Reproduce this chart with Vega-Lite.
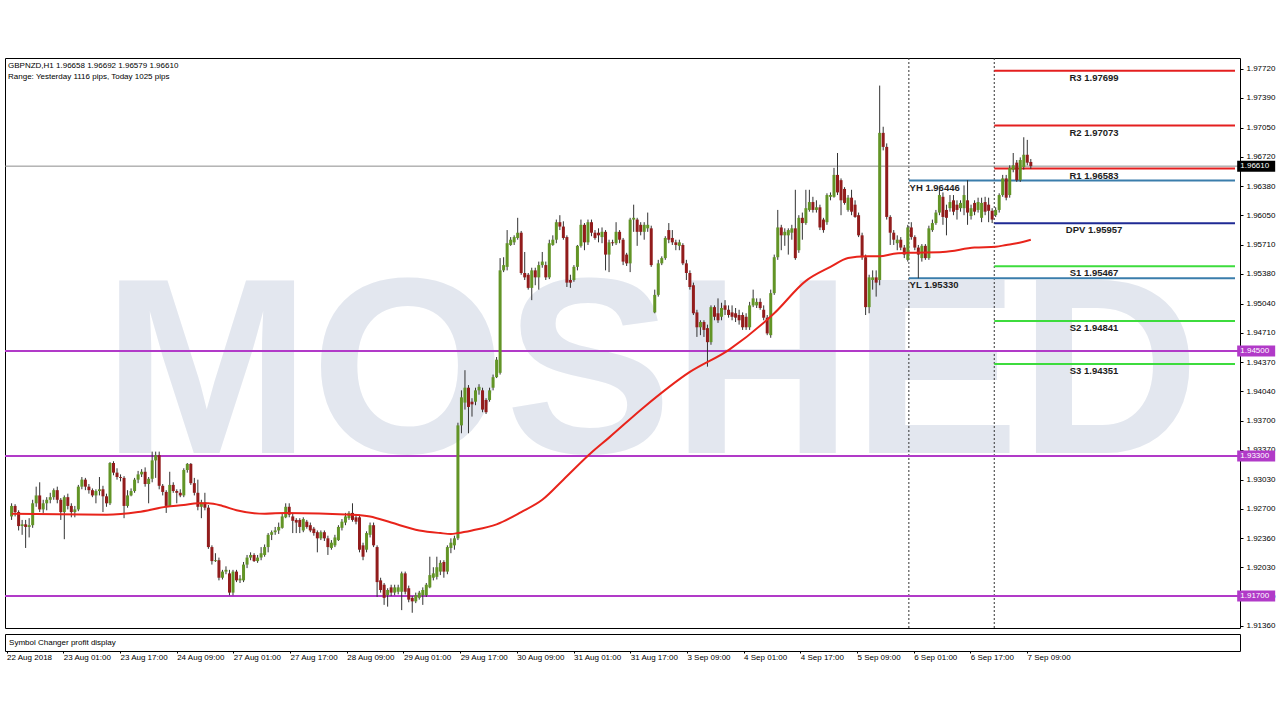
{
  "$schema": "https://vega.github.io/schema/vega-lite/v6.json",
  "background": "white",
  "padding": {"left": 3, "top": 57, "right": 0, "bottom": 0},
  "config": {
    "view": {"stroke": "#000", "strokeWidth": 1},
    "font": "Liberation Sans",
    "concat": {"spacing": 2}
  },
  "datasets": {
    "candles": [
      {"i":0,"o":1.9261,"h":1.9276,"l":1.9257,"c":1.9273},
      {"i":1,"o":1.9273,"h":1.9275,"l":1.9261,"c":1.9266},
      {"i":2,"o":1.9266,"h":1.9268,"l":1.9245,"c":1.9250},
      {"i":3,"o":1.9250,"h":1.9257,"l":1.9240,"c":1.9252},
      {"i":4,"o":1.9252,"h":1.9257,"l":1.9225,"c":1.9249},
      {"i":5,"o":1.9249,"h":1.9259,"l":1.9237,"c":1.9251},
      {"i":6,"o":1.9251,"h":1.9280,"l":1.9248,"c":1.9276},
      {"i":7,"o":1.9276,"h":1.9295,"l":1.9272,"c":1.9285},
      {"i":8,"o":1.9285,"h":1.9300,"l":1.9266,"c":1.9269},
      {"i":9,"o":1.9269,"h":1.9280,"l":1.9265,"c":1.9276},
      {"i":10,"o":1.9276,"h":1.9283,"l":1.9268,"c":1.9280},
      {"i":11,"o":1.9280,"h":1.9288,"l":1.9276,"c":1.9283},
      {"i":12,"o":1.9283,"h":1.9293,"l":1.9280,"c":1.9291},
      {"i":13,"o":1.9291,"h":1.9295,"l":1.9276,"c":1.9280},
      {"i":14,"o":1.9280,"h":1.9282,"l":1.9257,"c":1.9266},
      {"i":15,"o":1.9266,"h":1.9285,"l":1.9235,"c":1.9283},
      {"i":16,"o":1.9283,"h":1.9287,"l":1.9269,"c":1.9273},
      {"i":17,"o":1.9273,"h":1.9276,"l":1.9260,"c":1.9266},
      {"i":18,"o":1.9266,"h":1.9273,"l":1.9260,"c":1.9269},
      {"i":19,"o":1.9269,"h":1.9297,"l":1.9267,"c":1.9295},
      {"i":20,"o":1.9295,"h":1.9306,"l":1.9292,"c":1.9303},
      {"i":21,"o":1.9303,"h":1.9305,"l":1.9291,"c":1.9295},
      {"i":22,"o":1.9295,"h":1.9298,"l":1.9287,"c":1.9291},
      {"i":23,"o":1.9291,"h":1.9293,"l":1.9283,"c":1.9285},
      {"i":24,"o":1.9285,"h":1.9292,"l":1.9276,"c":1.9290},
      {"i":25,"o":1.9290,"h":1.9306,"l":1.9285,"c":1.9292},
      {"i":26,"o":1.9292,"h":1.9296,"l":1.9266,"c":1.9284},
      {"i":27,"o":1.9284,"h":1.9287,"l":1.9272,"c":1.9276},
      {"i":28,"o":1.9276,"h":1.9323,"l":1.9274,"c":1.9322},
      {"i":29,"o":1.9322,"h":1.9324,"l":1.9308,"c":1.9311},
      {"i":30,"o":1.9311,"h":1.9316,"l":1.9303,"c":1.9306},
      {"i":31,"o":1.9306,"h":1.9309,"l":1.9301,"c":1.9305},
      {"i":32,"o":1.9305,"h":1.9307,"l":1.9259,"c":1.9273},
      {"i":33,"o":1.9273,"h":1.9291,"l":1.9271,"c":1.9285},
      {"i":34,"o":1.9285,"h":1.9293,"l":1.9284,"c":1.9290},
      {"i":35,"o":1.9290,"h":1.9305,"l":1.9288,"c":1.9303},
      {"i":36,"o":1.9303,"h":1.9313,"l":1.9299,"c":1.9309},
      {"i":37,"o":1.9309,"h":1.9315,"l":1.9306,"c":1.9312},
      {"i":38,"o":1.9312,"h":1.9317,"l":1.9295,"c":1.9298},
      {"i":39,"o":1.9298,"h":1.9306,"l":1.9276,"c":1.9304},
      {"i":40,"o":1.9304,"h":1.9335,"l":1.9300,"c":1.9325},
      {"i":41,"o":1.9325,"h":1.9335,"l":1.9305,"c":1.9331},
      {"i":42,"o":1.9331,"h":1.9335,"l":1.9292,"c":1.9296},
      {"i":43,"o":1.9296,"h":1.9298,"l":1.9285,"c":1.9289},
      {"i":44,"o":1.9289,"h":1.9291,"l":1.9265,"c":1.9273},
      {"i":45,"o":1.9273,"h":1.9312,"l":1.9272,"c":1.9297},
      {"i":46,"o":1.9297,"h":1.9300,"l":1.9288,"c":1.9290},
      {"i":47,"o":1.9290,"h":1.9292,"l":1.9276,"c":1.9288},
      {"i":48,"o":1.9288,"h":1.9292,"l":1.9283,"c":1.9285},
      {"i":49,"o":1.9285,"h":1.9316,"l":1.9283,"c":1.9314},
      {"i":50,"o":1.9314,"h":1.9322,"l":1.9311,"c":1.9321},
      {"i":51,"o":1.9321,"h":1.9322,"l":1.9297,"c":1.9299},
      {"i":52,"o":1.9299,"h":1.9305,"l":1.9285,"c":1.9288},
      {"i":53,"o":1.9288,"h":1.9303,"l":1.9268,"c":1.9272},
      {"i":54,"o":1.9272,"h":1.9280,"l":1.9259,"c":1.9277},
      {"i":55,"o":1.9277,"h":1.9288,"l":1.9268,"c":1.9271},
      {"i":56,"o":1.9271,"h":1.9274,"l":1.9224,"c":1.9226},
      {"i":57,"o":1.9226,"h":1.9228,"l":1.9206,"c":1.9210},
      {"i":58,"o":1.9210,"h":1.9219,"l":1.9209,"c":1.9211},
      {"i":59,"o":1.9211,"h":1.9214,"l":1.9188,"c":1.9191},
      {"i":60,"o":1.9191,"h":1.9200,"l":1.9189,"c":1.9198},
      {"i":61,"o":1.9198,"h":1.9204,"l":1.9195,"c":1.9200},
      {"i":62,"o":1.9196,"h":1.9200,"l":1.9171,"c":1.9174},
      {"i":63,"o":1.9174,"h":1.9200,"l":1.9171,"c":1.9198},
      {"i":64,"o":1.9198,"h":1.9200,"l":1.9186,"c":1.9188},
      {"i":65,"o":1.9188,"h":1.9194,"l":1.9185,"c":1.9190},
      {"i":66,"o":1.9188,"h":1.9209,"l":1.9186,"c":1.9206},
      {"i":67,"o":1.9206,"h":1.9217,"l":1.9202,"c":1.9214},
      {"i":68,"o":1.9214,"h":1.9220,"l":1.9211,"c":1.9217},
      {"i":69,"o":1.9217,"h":1.9219,"l":1.9209,"c":1.9210},
      {"i":70,"o":1.9210,"h":1.9217,"l":1.9208,"c":1.9214},
      {"i":71,"o":1.9214,"h":1.9226,"l":1.9211,"c":1.9219},
      {"i":72,"o":1.9217,"h":1.9229,"l":1.9215,"c":1.9226},
      {"i":73,"o":1.9226,"h":1.9242,"l":1.9220,"c":1.9240},
      {"i":74,"o":1.9240,"h":1.9245,"l":1.9234,"c":1.9243},
      {"i":75,"o":1.9243,"h":1.9249,"l":1.9240,"c":1.9245},
      {"i":76,"o":1.9245,"h":1.9254,"l":1.9241,"c":1.9249},
      {"i":77,"o":1.9248,"h":1.9265,"l":1.9247,"c":1.9261},
      {"i":78,"o":1.9260,"h":1.9276,"l":1.9259,"c":1.9272},
      {"i":79,"o":1.9272,"h":1.9276,"l":1.9260,"c":1.9263},
      {"i":80,"o":1.9261,"h":1.9264,"l":1.9242,"c":1.9256},
      {"i":81,"o":1.9257,"h":1.9259,"l":1.9242,"c":1.9254},
      {"i":82,"o":1.9257,"h":1.9259,"l":1.9242,"c":1.9249},
      {"i":83,"o":1.9245,"h":1.9260,"l":1.9243,"c":1.9258},
      {"i":84,"o":1.9255,"h":1.9257,"l":1.9247,"c":1.9249},
      {"i":85,"o":1.9251,"h":1.9254,"l":1.9243,"c":1.9245},
      {"i":86,"o":1.9247,"h":1.9249,"l":1.9239,"c":1.9242},
      {"i":87,"o":1.9243,"h":1.9245,"l":1.9220,"c":1.9236},
      {"i":88,"o":1.9236,"h":1.9245,"l":1.9234,"c":1.9243},
      {"i":89,"o":1.9243,"h":1.9245,"l":1.9233,"c":1.9236},
      {"i":90,"o":1.9236,"h":1.9239,"l":1.9217,"c":1.9226},
      {"i":91,"o":1.9225,"h":1.9234,"l":1.9223,"c":1.9231},
      {"i":92,"o":1.9228,"h":1.9240,"l":1.9226,"c":1.9237},
      {"i":93,"o":1.9234,"h":1.9251,"l":1.9233,"c":1.9249},
      {"i":94,"o":1.9248,"h":1.9258,"l":1.9245,"c":1.9255},
      {"i":95,"o":1.9254,"h":1.9265,"l":1.9251,"c":1.9261},
      {"i":96,"o":1.9259,"h":1.9267,"l":1.9257,"c":1.9265},
      {"i":97,"o":1.9265,"h":1.9276,"l":1.9255,"c":1.9257},
      {"i":98,"o":1.9260,"h":1.9263,"l":1.9252,"c":1.9255},
      {"i":99,"o":1.9260,"h":1.9263,"l":1.9220,"c":1.9223},
      {"i":100,"o":1.9228,"h":1.9231,"l":1.9211,"c":1.9215},
      {"i":101,"o":1.9223,"h":1.9244,"l":1.9220,"c":1.9242},
      {"i":102,"o":1.9240,"h":1.9254,"l":1.9237,"c":1.9251},
      {"i":103,"o":1.9251,"h":1.9254,"l":1.9226,"c":1.9228},
      {"i":104,"o":1.9226,"h":1.9228,"l":1.9169,"c":1.9186},
      {"i":105,"o":1.9188,"h":1.9191,"l":1.9174,"c":1.9177},
      {"i":106,"o":1.9183,"h":1.9185,"l":1.9160,"c":1.9168},
      {"i":107,"o":1.9171,"h":1.9179,"l":1.9158,"c":1.9177},
      {"i":108,"o":1.9180,"h":1.9183,"l":1.9170,"c":1.9174},
      {"i":109,"o":1.9174,"h":1.9183,"l":1.9171,"c":1.9180},
      {"i":110,"o":1.9175,"h":1.9183,"l":1.9172,"c":1.9180},
      {"i":111,"o":1.9175,"h":1.9198,"l":1.9154,"c":1.9196},
      {"i":112,"o":1.9196,"h":1.9198,"l":1.9172,"c":1.9175},
      {"i":113,"o":1.9179,"h":1.9182,"l":1.9163,"c":1.9166},
      {"i":114,"o":1.9168,"h":1.9170,"l":1.9151,"c":1.9164},
      {"i":115,"o":1.9164,"h":1.9174,"l":1.9162,"c":1.9171},
      {"i":116,"o":1.9168,"h":1.9176,"l":1.9166,"c":1.9174},
      {"i":117,"o":1.9171,"h":1.9180,"l":1.9160,"c":1.9177},
      {"i":118,"o":1.9171,"h":1.9185,"l":1.9169,"c":1.9183},
      {"i":119,"o":1.9180,"h":1.9215,"l":1.9179,"c":1.9194},
      {"i":120,"o":1.9191,"h":1.9203,"l":1.9188,"c":1.9196},
      {"i":121,"o":1.9192,"h":1.9215,"l":1.9189,"c":1.9203},
      {"i":122,"o":1.9198,"h":1.9211,"l":1.9194,"c":1.9208},
      {"i":123,"o":1.9209,"h":1.9211,"l":1.9191,"c":1.9198},
      {"i":124,"o":1.9198,"h":1.9228,"l":1.9195,"c":1.9226},
      {"i":125,"o":1.9225,"h":1.9236,"l":1.9219,"c":1.9231},
      {"i":126,"o":1.9228,"h":1.9239,"l":1.9223,"c":1.9236},
      {"i":127,"o":1.9236,"h":1.9368,"l":1.9234,"c":1.9365},
      {"i":128,"o":1.9365,"h":1.9405,"l":1.9356,"c":1.9397},
      {"i":129,"o":1.9391,"h":1.9428,"l":1.9383,"c":1.9408},
      {"i":130,"o":1.9408,"h":1.9411,"l":1.9356,"c":1.9386},
      {"i":131,"o":1.9392,"h":1.9396,"l":1.9375,"c":1.9389},
      {"i":132,"o":1.9392,"h":1.9408,"l":1.9388,"c":1.9405},
      {"i":133,"o":1.9405,"h":1.9412,"l":1.9400,"c":1.9409},
      {"i":134,"o":1.9405,"h":1.9408,"l":1.9380,"c":1.9383},
      {"i":135,"o":1.9394,"h":1.9396,"l":1.9378,"c":1.9380},
      {"i":136,"o":1.9394,"h":1.9408,"l":1.9392,"c":1.9405},
      {"i":137,"o":1.9408,"h":1.9423,"l":1.9405,"c":1.9420},
      {"i":138,"o":1.9420,"h":1.9443,"l":1.9419,"c":1.9440},
      {"i":139,"o":1.9425,"h":1.9556,"l":1.9423,"c":1.9542},
      {"i":140,"o":1.9542,"h":1.9557,"l":1.9540,"c":1.9548},
      {"i":141,"o":1.9546,"h":1.9588,"l":1.9542,"c":1.9573},
      {"i":142,"o":1.9571,"h":1.9580,"l":1.9570,"c":1.9577},
      {"i":143,"o":1.9574,"h":1.9582,"l":1.9571,"c":1.9580},
      {"i":144,"o":1.9579,"h":1.9602,"l":1.9577,"c":1.9585},
      {"i":145,"o":1.9585,"h":1.9587,"l":1.9537,"c":1.9539},
      {"i":146,"o":1.9539,"h":1.9563,"l":1.9531,"c":1.9534},
      {"i":147,"o":1.9537,"h":1.9539,"l":1.9520,"c":1.9522},
      {"i":148,"o":1.9522,"h":1.9545,"l":1.9508,"c":1.9542},
      {"i":149,"o":1.9542,"h":1.9545,"l":1.9525,"c":1.9534},
      {"i":150,"o":1.9534,"h":1.9552,"l":1.9520,"c":1.9548},
      {"i":151,"o":1.9548,"h":1.9563,"l":1.9545,"c":1.9552},
      {"i":152,"o":1.9548,"h":1.9552,"l":1.9531,"c":1.9534},
      {"i":153,"o":1.9534,"h":1.9577,"l":1.9532,"c":1.9573},
      {"i":154,"o":1.9571,"h":1.9582,"l":1.9570,"c":1.9577},
      {"i":155,"o":1.9577,"h":1.9600,"l":1.9573,"c":1.9597},
      {"i":156,"o":1.9597,"h":1.9605,"l":1.9588,"c":1.9592},
      {"i":157,"o":1.9592,"h":1.9598,"l":1.9577,"c":1.9579},
      {"i":158,"o":1.9580,"h":1.9582,"l":1.9523,"c":1.9528},
      {"i":159,"o":1.9531,"h":1.9537,"l":1.9522,"c":1.9528},
      {"i":160,"o":1.9531,"h":1.9548,"l":1.9529,"c":1.9546},
      {"i":161,"o":1.9546,"h":1.9571,"l":1.9542,"c":1.9570},
      {"i":162,"o":1.9570,"h":1.9600,"l":1.9568,"c":1.9594},
      {"i":163,"o":1.9594,"h":1.9596,"l":1.9565,"c":1.9574},
      {"i":164,"o":1.9574,"h":1.9600,"l":1.9571,"c":1.9597},
      {"i":165,"o":1.9597,"h":1.9600,"l":1.9581,"c":1.9585},
      {"i":166,"o":1.9585,"h":1.9588,"l":1.9577,"c":1.9579},
      {"i":167,"o":1.9585,"h":1.9590,"l":1.9574,"c":1.9582},
      {"i":168,"o":1.9580,"h":1.9591,"l":1.9573,"c":1.9586},
      {"i":169,"o":1.9586,"h":1.9588,"l":1.9542,"c":1.9560},
      {"i":170,"o":1.9560,"h":1.9577,"l":1.9540,"c":1.9574},
      {"i":171,"o":1.9574,"h":1.9577,"l":1.9570,"c":1.9573},
      {"i":172,"o":1.9573,"h":1.9597,"l":1.9571,"c":1.9586},
      {"i":173,"o":1.9586,"h":1.9588,"l":1.9573,"c":1.9577},
      {"i":174,"o":1.9577,"h":1.9579,"l":1.9548,"c":1.9552},
      {"i":175,"o":1.9560,"h":1.9562,"l":1.9547,"c":1.9550},
      {"i":176,"o":1.9550,"h":1.9602,"l":1.9540,"c":1.9600},
      {"i":177,"o":1.9600,"h":1.9617,"l":1.9586,"c":1.9602},
      {"i":178,"o":1.9600,"h":1.9602,"l":1.9570,"c":1.9586},
      {"i":179,"o":1.9594,"h":1.9597,"l":1.9582,"c":1.9586},
      {"i":180,"o":1.9586,"h":1.9597,"l":1.9577,"c":1.9594},
      {"i":181,"o":1.9590,"h":1.9608,"l":1.9586,"c":1.9594},
      {"i":182,"o":1.9590,"h":1.9593,"l":1.9546,"c":1.9548},
      {"i":183,"o":1.9494,"h":1.9520,"l":1.9493,"c":1.9514},
      {"i":184,"o":1.9514,"h":1.9554,"l":1.9512,"c":1.9550},
      {"i":185,"o":1.9550,"h":1.9558,"l":1.9548,"c":1.9556},
      {"i":186,"o":1.9556,"h":1.9581,"l":1.9554,"c":1.9579},
      {"i":187,"o":1.9588,"h":1.9596,"l":1.9573,"c":1.9577},
      {"i":188,"o":1.9579,"h":1.9588,"l":1.9571,"c":1.9574},
      {"i":189,"o":1.9574,"h":1.9577,"l":1.9565,"c":1.9571},
      {"i":190,"o":1.9570,"h":1.9577,"l":1.9565,"c":1.9574},
      {"i":191,"o":1.9571,"h":1.9573,"l":1.9548,"c":1.9550},
      {"i":192,"o":1.9550,"h":1.9554,"l":1.9531,"c":1.9539},
      {"i":193,"o":1.9539,"h":1.9542,"l":1.9520,"c":1.9523},
      {"i":194,"o":1.9525,"h":1.9528,"l":1.9491,"c":1.9493},
      {"i":195,"o":1.9494,"h":1.9497,"l":1.9466,"c":1.9477},
      {"i":196,"o":1.9477,"h":1.9485,"l":1.9468,"c":1.9483},
      {"i":197,"o":1.9483,"h":1.9485,"l":1.9466,"c":1.9474},
      {"i":198,"o":1.9476,"h":1.9480,"l":1.9432,"c":1.9460},
      {"i":199,"o":1.9460,"h":1.9502,"l":1.9457,"c":1.9500},
      {"i":200,"o":1.9500,"h":1.9502,"l":1.9485,"c":1.9489},
      {"i":201,"o":1.9493,"h":1.9510,"l":1.9482,"c":1.9485},
      {"i":202,"o":1.9489,"h":1.9505,"l":1.9485,"c":1.9499},
      {"i":203,"o":1.9502,"h":1.9508,"l":1.9491,"c":1.9497},
      {"i":204,"o":1.9497,"h":1.9502,"l":1.9488,"c":1.9491},
      {"i":205,"o":1.9494,"h":1.9502,"l":1.9485,"c":1.9489},
      {"i":206,"o":1.9493,"h":1.9499,"l":1.9483,"c":1.9488},
      {"i":207,"o":1.9491,"h":1.9497,"l":1.9480,"c":1.9485},
      {"i":208,"o":1.9491,"h":1.9494,"l":1.9474,"c":1.9477},
      {"i":209,"o":1.9489,"h":1.9493,"l":1.9474,"c":1.9477},
      {"i":210,"o":1.9477,"h":1.9506,"l":1.9474,"c":1.9502},
      {"i":211,"o":1.9502,"h":1.9520,"l":1.9500,"c":1.9510},
      {"i":212,"o":1.9502,"h":1.9510,"l":1.9499,"c":1.9506},
      {"i":213,"o":1.9506,"h":1.9510,"l":1.9497,"c":1.9499},
      {"i":214,"o":1.9497,"h":1.9502,"l":1.9485,"c":1.9488},
      {"i":215,"o":1.9488,"h":1.9491,"l":1.9468,"c":1.9470},
      {"i":216,"o":1.9468,"h":1.9520,"l":1.9465,"c":1.9516},
      {"i":217,"o":1.9516,"h":1.9560,"l":1.9514,"c":1.9557},
      {"i":218,"o":1.9557,"h":1.9611,"l":1.9554,"c":1.9591},
      {"i":219,"o":1.9591,"h":1.9594,"l":1.9565,"c":1.9582},
      {"i":220,"o":1.9582,"h":1.9590,"l":1.9570,"c":1.9586},
      {"i":221,"o":1.9582,"h":1.9590,"l":1.9560,"c":1.9588},
      {"i":222,"o":1.9585,"h":1.9594,"l":1.9577,"c":1.9590},
      {"i":223,"o":1.9590,"h":1.9634,"l":1.9554,"c":1.9556},
      {"i":224,"o":1.9565,"h":1.9605,"l":1.9562,"c":1.9602},
      {"i":225,"o":1.9602,"h":1.9608,"l":1.9577,"c":1.9596},
      {"i":226,"o":1.9596,"h":1.9634,"l":1.9594,"c":1.9613},
      {"i":227,"o":1.9611,"h":1.9634,"l":1.9609,"c":1.9620},
      {"i":228,"o":1.9620,"h":1.9626,"l":1.9608,"c":1.9611},
      {"i":229,"o":1.9611,"h":1.9622,"l":1.9608,"c":1.9614},
      {"i":230,"o":1.9614,"h":1.9617,"l":1.9588,"c":1.9591},
      {"i":231,"o":1.9600,"h":1.9602,"l":1.9585,"c":1.9588},
      {"i":232,"o":1.9597,"h":1.9630,"l":1.9594,"c":1.9628},
      {"i":233,"o":1.9626,"h":1.9631,"l":1.9622,"c":1.9628},
      {"i":234,"o":1.9626,"h":1.9659,"l":1.9625,"c":1.9651},
      {"i":235,"o":1.9651,"h":1.9676,"l":1.9628,"c":1.9631},
      {"i":236,"o":1.9645,"h":1.9647,"l":1.9605,"c":1.9622},
      {"i":237,"o":1.9635,"h":1.9637,"l":1.9617,"c":1.9619},
      {"i":238,"o":1.9611,"h":1.9628,"l":1.9609,"c":1.9625},
      {"i":239,"o":1.9625,"h":1.9634,"l":1.9605,"c":1.9609},
      {"i":240,"o":1.9617,"h":1.9622,"l":1.9602,"c":1.9603},
      {"i":241,"o":1.9605,"h":1.9608,"l":1.9580,"c":1.9582},
      {"i":242,"o":1.9582,"h":1.9585,"l":1.9554,"c":1.9557},
      {"i":243,"o":1.9557,"h":1.9560,"l":1.9491,"c":1.9500},
      {"i":244,"o":1.9500,"h":1.9537,"l":1.9493,"c":1.9534},
      {"i":245,"o":1.9531,"h":1.9542,"l":1.9520,"c":1.9534},
      {"i":246,"o":1.9534,"h":1.9542,"l":1.9512,"c":1.9528},
      {"i":247,"o":1.9531,"h":1.9753,"l":1.9525,"c":1.9699},
      {"i":248,"o":1.9699,"h":1.9706,"l":1.9679,"c":1.9683},
      {"i":249,"o":1.9683,"h":1.9687,"l":1.9600,"c":1.9603},
      {"i":250,"o":1.9603,"h":1.9605,"l":1.9571,"c":1.9585},
      {"i":251,"o":1.9585,"h":1.9588,"l":1.9571,"c":1.9577},
      {"i":252,"o":1.9573,"h":1.9582,"l":1.9565,"c":1.9577},
      {"i":253,"o":1.9577,"h":1.9580,"l":1.9565,"c":1.9568},
      {"i":254,"o":1.9568,"h":1.9571,"l":1.9556,"c":1.9560},
      {"i":255,"o":1.9554,"h":1.9594,"l":1.9552,"c":1.9591},
      {"i":256,"o":1.9591,"h":1.9597,"l":1.9577,"c":1.9580},
      {"i":257,"o":1.9580,"h":1.9582,"l":1.9565,"c":1.9568},
      {"i":258,"o":1.9568,"h":1.9571,"l":1.9533,"c":1.9560},
      {"i":259,"o":1.9556,"h":1.9572,"l":1.9552,"c":1.9570},
      {"i":260,"o":1.9570,"h":1.9572,"l":1.9554,"c":1.9556},
      {"i":261,"o":1.9556,"h":1.9593,"l":1.9554,"c":1.9590},
      {"i":262,"o":1.9588,"h":1.9600,"l":1.9586,"c":1.9596},
      {"i":263,"o":1.9596,"h":1.9611,"l":1.9594,"c":1.9608},
      {"i":264,"o":1.9608,"h":1.9634,"l":1.9605,"c":1.9628},
      {"i":265,"o":1.9626,"h":1.9631,"l":1.9594,"c":1.9603},
      {"i":266,"o":1.9611,"h":1.9617,"l":1.9582,"c":1.9602},
      {"i":267,"o":1.9613,"h":1.9628,"l":1.9609,"c":1.9620},
      {"i":268,"o":1.9622,"h":1.9628,"l":1.9605,"c":1.9609},
      {"i":269,"o":1.9617,"h":1.9622,"l":1.9600,"c":1.9611},
      {"i":270,"o":1.9613,"h":1.9622,"l":1.9609,"c":1.9619},
      {"i":271,"o":1.9613,"h":1.9639,"l":1.9605,"c":1.9628},
      {"i":272,"o":1.9622,"h":1.9645,"l":1.9594,"c":1.9608},
      {"i":273,"o":1.9604,"h":1.9617,"l":1.9600,"c":1.9613},
      {"i":274,"o":1.9619,"h":1.9622,"l":1.9605,"c":1.9609},
      {"i":275,"o":1.9611,"h":1.9625,"l":1.9608,"c":1.9620},
      {"i":276,"o":1.9602,"h":1.9625,"l":1.9597,"c":1.9619},
      {"i":277,"o":1.9620,"h":1.9626,"l":1.9605,"c":1.9609},
      {"i":278,"o":1.9617,"h":1.9625,"l":1.9597,"c":1.9610},
      {"i":279,"o":1.9610,"h":1.9613,"l":1.9596,"c":1.9600},
      {"i":280,"o":1.9605,"h":1.9614,"l":1.9603,"c":1.9611},
      {"i":281,"o":1.9611,"h":1.9630,"l":1.9608,"c":1.9628},
      {"i":282,"o":1.9628,"h":1.9651,"l":1.9626,"c":1.9647},
      {"i":283,"o":1.9647,"h":1.9651,"l":1.9622,"c":1.9625},
      {"i":284,"o":1.9628,"h":1.9662,"l":1.9625,"c":1.9659},
      {"i":285,"o":1.9657,"h":1.9676,"l":1.9654,"c":1.9662},
      {"i":286,"o":1.9665,"h":1.9668,"l":1.9643,"c":1.9645},
      {"i":287,"o":1.9645,"h":1.9671,"l":1.9643,"c":1.9668},
      {"i":288,"o":1.9660,"h":1.9694,"l":1.9657,"c":1.9674},
      {"i":289,"o":1.9674,"h":1.9691,"l":1.9662,"c":1.9665},
      {"i":290,"o":1.96658,"h":1.96692,"l":1.96579,"c":1.96610}
    ],
    "ma": [
      {"i":0,"v":1.9264},{"i":27,"v":1.9263},{"i":36,"v":1.9266},{"i":44,"v":1.9272},
      {"i":49,"v":1.9274},{"i":53,"v":1.9276},{"i":56,"v":1.9276},{"i":60,"v":1.9273},
      {"i":64,"v":1.9268},{"i":72,"v":1.9264},{"i":78,"v":1.9265},{"i":97,"v":1.9263},
      {"i":102,"v":1.9261},{"i":108,"v":1.9254},{"i":116,"v":1.9245},{"i":122,"v":1.9242},
      {"i":125,"v":1.9241},{"i":127,"v":1.9242},{"i":131,"v":1.9245},{"i":138,"v":1.9252},
      {"i":145,"v":1.9266},{"i":151,"v":1.9280},{"i":157,"v":1.9303},{"i":165,"v":1.9334},
      {"i":170,"v":1.9351},{"i":180,"v":1.9386},{"i":193,"v":1.9426},{"i":204,"v":1.9451},
      {"i":217,"v":1.9493},{"i":226,"v":1.9530},{"i":233,"v":1.9546},{"i":238,"v":1.9556},
      {"i":243,"v":1.9558},{"i":247,"v":1.9558},{"i":251,"v":1.9561},{"i":255,"v":1.9562},
      {"i":265,"v":1.9563},{"i":274,"v":1.9568},{"i":280,"v":1.9569},{"i":283,"v":1.9571},
      {"i":286,"v":1.9573},{"i":290,"v":1.9577}
    ],
    "pivots": [
      {"t":"R3 1.97699","v":1.97699,"k":"R"},
      {"t":"R2 1.97073","v":1.97073,"k":"R"},
      {"t":"R1 1.96583","v":1.96583,"k":"R"},
      {"t":"DPV 1.95957","v":1.95957,"k":"P"},
      {"t":"S1 1.95467","v":1.95467,"k":"S"},
      {"t":"S2 1.94841","v":1.94841,"k":"S"},
      {"t":"S3 1.94351","v":1.94351,"k":"S"}
    ],
    "yday": [
      {"t":"YH 1.96446","v":1.96446},
      {"t":"YL 1.95330","v":1.95330}
    ],
    "levels": [
      {"v":1.945,"t":"1.94500","k":"lvl"},
      {"v":1.933,"t":"1.93300","k":"lvl"},
      {"v":1.917,"t":"1.91700","k":"lvl"},
      {"v":1.9661,"t":"1.96610","k":"bid"}
    ],
    "days": [{"b":255.3},{"b":279.6}]
  },
  "vconcat": [
    {
      "width": 1235,
      "height": 570,
      "title": {
        "text": ["GBPNZD,H1  1.96658 1.96692 1.96579 1.96610", "Range: Yesterday 1116 pips, Today 1025 pips"],
        "anchor": "start", "frame": "group", "offset": -23, "dx": 3,
        "font": "Liberation Sans", "fontSize": 8, "fontWeight": "normal", "color": "#000", "lineHeight": 11
      },
      "resolve": {"axis": {"y": "independent"}},
      "layer": [
        {
          "data": {"values": [{"w": "MOSHED"}]},
          "mark": {"type": "text", "font": "Liberation Sans", "fontWeight": "bold", "fontSize": 250, "color": "#e3e7ef", "align": "center", "baseline": "alphabetic"},
          "encoding": {
            "x": {"datum": 182, "type": "quantitative", "scale": {"domain": [-0.45, 348.1], "nice": false, "zero": false}, "axis": null},
            "y": {
              "datum": 1.9333, "type": "quantitative", "title": null,
              "scale": {"domain": [1.91336, 1.97845], "nice": false, "zero": false},
              "axis": {
                "orient": "right", "title": null, "grid": false, "domain": false,
                "values": [1.9136, 1.917, 1.9203, 1.9236, 1.927, 1.9303, 1.9337, 1.937, 1.9404, 1.9437, 1.9471, 1.9504, 1.9538, 1.9571, 1.9605, 1.9638, 1.9672, 1.9705, 1.9739, 1.9772],
                "format": ".5f", "labelOverlap": false, "labelAlign": "left", "labelBaseline": "middle",
                "labelFont": "Liberation Sans", "labelFontSize": 8, "labelColor": "#000", "tickColor": "#000", "tickSize": 3, "labelPadding": 3
              }
            },
            "text": {"field": "w"}
          }
        },
        {
          "data": {"name": "days"},
          "mark": {"type": "rule", "color": "#333", "strokeWidth": 1, "strokeDash": [2, 2]},
          "encoding": {
            "x": {"field": "b", "type": "quantitative", "scale": {"domain": [-0.45, 348.1], "nice": false, "zero": false}, "axis": null}
          }
        },
        {
          "data": {"name": "levels"},
          "transform": [{"filter": "datum.k == 'lvl'"}],
          "mark": {"type": "rule", "color": "#b13ac8", "strokeWidth": 2},
          "encoding": {
            "y": {"field": "v", "type": "quantitative", "scale": {"domain": [1.91336, 1.97845], "nice": false, "zero": false}, "axis": null}
          }
        },
        {
          "data": {"name": "levels"},
          "transform": [{"filter": "datum.k == 'bid'"}],
          "mark": {"type": "rule", "color": "#8c8c8c", "strokeWidth": 1},
          "encoding": {
            "y": {"field": "v", "type": "quantitative", "scale": {"domain": [1.91336, 1.97845], "nice": false, "zero": false}, "axis": null}
          }
        },
        {
          "data": {"name": "pivots"},
          "mark": {"type": "rule", "strokeWidth": 2},
          "encoding": {
            "x": {"datum": 279.6, "type": "quantitative", "scale": {"domain": [-0.45, 348.1], "nice": false, "zero": false}, "axis": null},
            "x2": {"datum": 348.1},
            "y": {"field": "v", "type": "quantitative", "scale": {"domain": [1.91336, 1.97845], "nice": false, "zero": false}, "axis": null},
            "color": {"condition": [{"test": "datum.k == 'R'", "value": "#e41f1f"}, {"test": "datum.k == 'P'", "value": "#1f2a94"}], "value": "#3ddc3d"}
          }
        },
        {
          "data": {"name": "yday"},
          "mark": {"type": "rule", "strokeWidth": 2, "color": "#3a7dab"},
          "encoding": {
            "x": {"datum": 255.3, "type": "quantitative", "scale": {"domain": [-0.45, 348.1], "nice": false, "zero": false}, "axis": null},
            "x2": {"datum": 348.1},
            "y": {"field": "v", "type": "quantitative", "scale": {"domain": [1.91336, 1.97845], "nice": false, "zero": false}, "axis": null}
          }
        },
        {
          "data": {"name": "candles"},
          "mark": {"type": "rule", "color": "#333", "strokeWidth": 1},
          "encoding": {
            "x": {"field": "i", "type": "quantitative", "scale": {"domain": [-0.45, 348.1], "nice": false, "zero": false}, "axis": null},
            "y": {"field": "l", "type": "quantitative", "scale": {"domain": [1.91336, 1.97845], "nice": false, "zero": false}, "axis": null},
            "y2": {"field": "h"}
          }
        },
        {
          "data": {"name": "candles"},
          "mark": {"type": "bar", "size": 3},
          "encoding": {
            "x": {"field": "i", "type": "quantitative", "scale": {"domain": [-0.45, 348.1], "nice": false, "zero": false}, "axis": null},
            "y": {"field": "o", "type": "quantitative", "scale": {"domain": [1.91336, 1.97845], "nice": false, "zero": false}, "axis": null},
            "y2": {"field": "c"},
            "color": {"condition": {"test": "datum.c >= datum.o", "value": "#629426"}, "value": "#921c1c"}
          }
        },
        {
          "data": {"name": "ma"},
          "mark": {"type": "line", "color": "#e8241b", "strokeWidth": 2, "interpolate": "monotone"},
          "encoding": {
            "x": {"field": "i", "type": "quantitative", "scale": {"domain": [-0.45, 348.1], "nice": false, "zero": false}, "axis": null},
            "y": {"field": "v", "type": "quantitative", "scale": {"domain": [1.91336, 1.97845], "nice": false, "zero": false}, "axis": null}
          }
        },
        {
          "data": {"name": "pivots"},
          "mark": {"type": "text", "font": "Liberation Sans", "fontSize": 9.5, "fontWeight": "bold", "color": "#1e1e1e", "align": "center", "baseline": "top", "dy": 2},
          "encoding": {
            "x": {"datum": 308, "type": "quantitative", "scale": {"domain": [-0.45, 348.1], "nice": false, "zero": false}, "axis": null},
            "y": {"field": "v", "type": "quantitative", "scale": {"domain": [1.91336, 1.97845], "nice": false, "zero": false}, "axis": null},
            "text": {"field": "t"}
          }
        },
        {
          "data": {"name": "yday"},
          "mark": {"type": "text", "font": "Liberation Sans", "fontSize": 9.5, "fontWeight": "bold", "color": "#1e1e1e", "align": "left", "baseline": "top", "dy": 2},
          "encoding": {
            "x": {"datum": 255.5, "type": "quantitative", "scale": {"domain": [-0.45, 348.1], "nice": false, "zero": false}, "axis": null},
            "y": {"field": "v", "type": "quantitative", "scale": {"domain": [1.91336, 1.97845], "nice": false, "zero": false}, "axis": null},
            "text": {"field": "t"}
          }
        },
        {
          "data": {"name": "levels"},
          "mark": {"type": "point", "shape": "M0,-0.5H3.4545V0.5H0Z", "size": 484, "filled": true, "opacity": 1, "strokeWidth": 0},
          "encoding": {
            "x": {"datum": 348.72, "type": "quantitative", "scale": {"domain": [-0.45, 348.1], "nice": false, "zero": false}, "axis": null},
            "y": {"field": "v", "type": "quantitative", "scale": {"domain": [1.91336, 1.97845], "nice": false, "zero": false}, "axis": null},
            "color": {"condition": {"test": "datum.k == 'bid'", "value": "#000000"}, "value": "#b13ac8"}
          }
        },
        {
          "data": {"name": "levels"},
          "mark": {"type": "text", "font": "Liberation Sans", "fontSize": 8, "color": "#ffffff", "align": "left", "baseline": "middle"},
          "encoding": {
            "x": {"datum": 349.6, "type": "quantitative", "scale": {"domain": [-0.45, 348.1], "nice": false, "zero": false}, "axis": null},
            "y": {"field": "v", "type": "quantitative", "scale": {"domain": [1.91336, 1.97845], "nice": false, "zero": false}, "axis": null},
            "text": {"field": "t"}
          }
        }
      ]
    },
    {
      "width": 1235,
      "height": 17,
      "data": {"values": [{"t": "Symbol Changer profit display"}]},
      "mark": {"type": "text", "font": "Liberation Sans", "fontSize": 8, "color": "#000", "align": "left", "baseline": "middle"},
      "encoding": {
        "x": {
          "datum": 0.7, "type": "quantitative",
          "scale": {"domain": [-0.45, 348.1], "nice": false, "zero": false},
          "axis": {
            "title": null, "grid": false, "domain": false,
            "values": [0, 16, 32, 48, 64, 80, 96, 112, 128, 144, 160, 176, 192, 208, 224, 240, 256, 272, 288],
            "labelExpr": "['22 Aug 2018','23 Aug 01:00','23 Aug 17:00','24 Aug 09:00','27 Aug 01:00','27 Aug 17:00','28 Aug 09:00','29 Aug 01:00','29 Aug 17:00','30 Aug 09:00','31 Aug 01:00','31 Aug 17:00','3 Sep 09:00','4 Sep 01:00','4 Sep 17:00','5 Sep 09:00','6 Sep 01:00','6 Sep 17:00','7 Sep 09:00'][round(datum.value/16)]",
            "labelAlign": "left", "labelBaseline": "top", "labelPadding": 0, "labelFlush": false,
            "labelFont": "Liberation Sans", "labelFontSize": 8, "labelColor": "#000",
            "tickColor": "#000", "tickSize": 2, "labelOverlap": false
          }
        },
        "text": {"field": "t"}
      }
    }
  ]
}
